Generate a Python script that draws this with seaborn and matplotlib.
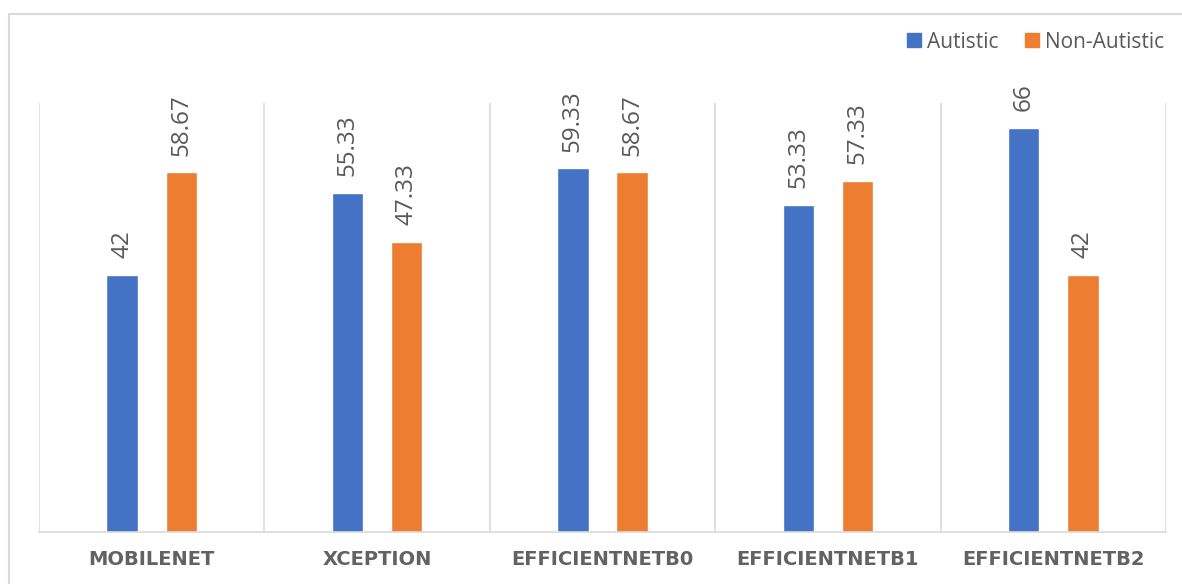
import matplotlib
matplotlib.use("Agg")
import matplotlib.pyplot as plt
from matplotlib.patches import Rectangle
import seaborn as sns
import pandas as pd

models = ["MOBILENET", "XCEPTION", "EFFICIENTNETB0", "EFFICIENTNETB1", "EFFICIENTNETB2"]
autistic = [42, 55.33, 59.33, 53.33, 66]
non_autistic = [58.67, 47.33, 58.67, 57.33, 42]
series = ["Autistic", "Non-Autistic"]
labels_auto = ["42", "55.33", "59.33", "53.33", "66"]
labels_non = ["58.67", "47.33", "58.67", "57.33", "42"]

df = pd.DataFrame({
    "model": models * 2,
    "value": autistic + non_autistic,
    "group": [series[0]] * len(models) + [series[1]] * len(models),
})

sns.set_theme(style="white")
plt.rcParams["font.family"] = ["Open Sans", "DejaVu Sans"]

W, H = 1182, 584
fig = plt.figure(figsize=(W / 100, H / 100), dpi=100)
ax = fig.add_axes([39 / W, (H - 532) / H, (1166 - 39) / W, (532 - 103) / H])

palette = {"Autistic": "#4472C4", "Non-Autistic": "#ED7D31"}
sns.barplot(data=df, x="model", y="value", hue="group", palette=palette,
            width=0.525, gap=0.47, saturation=1, ax=ax, legend=False)

ax.set_ylim(0, 70)
ax.set_xlim(-0.5, len(models) - 0.5)
ax.set_xlabel("")
ax.set_ylabel("")
ax.set_yticks([])
ax.tick_params(axis="x", length=0, pad=13)
ax.set_xticks(range(len(models)))
ax.set_xticklabels(models, fontsize=14, fontweight="bold", color="#626262",
                   family="DejaVu Sans")

# category separators
grid_c = "#d9d9d9"
for b in [i - 0.5 for i in range(len(models) + 1)]:
    ax.axvline(b, color=grid_c, lw=1.2, zorder=0)
for s in ["top", "right", "left"]:
    ax.spines[s].set_visible(False)
ax.spines["bottom"].set_color(grid_c)
ax.spines["bottom"].set_linewidth(1.2)

# value labels
for cont, labs in zip(ax.containers, [labels_auto, labels_non]):
    ax.bar_label(cont, labels=labs, rotation=90, padding=12, fontsize=17.5,
                 color="#595959")

# legend
handles = [Rectangle((0, 0), 1, 1, color=palette[s]) for s in series]
fig.legend(handles, series, loc="center right", bbox_to_anchor=(1183 / W, 1 - 42 / H),
           ncol=2, frameon=False, fontsize=15, handlelength=0.65, handleheight=0.65,
           handletextpad=0.3, columnspacing=1.3,
           labelcolor="#595959")

# chart area border
fig.patches.append(Rectangle((9 / W, -0.05), 1.1, 1 - 14 / H + 0.05,
                             transform=fig.transFigure, fill=False,
                             edgecolor="#d9d9d9", lw=1.5))

fig.savefig("out.png", dpi=100, facecolor="white")
